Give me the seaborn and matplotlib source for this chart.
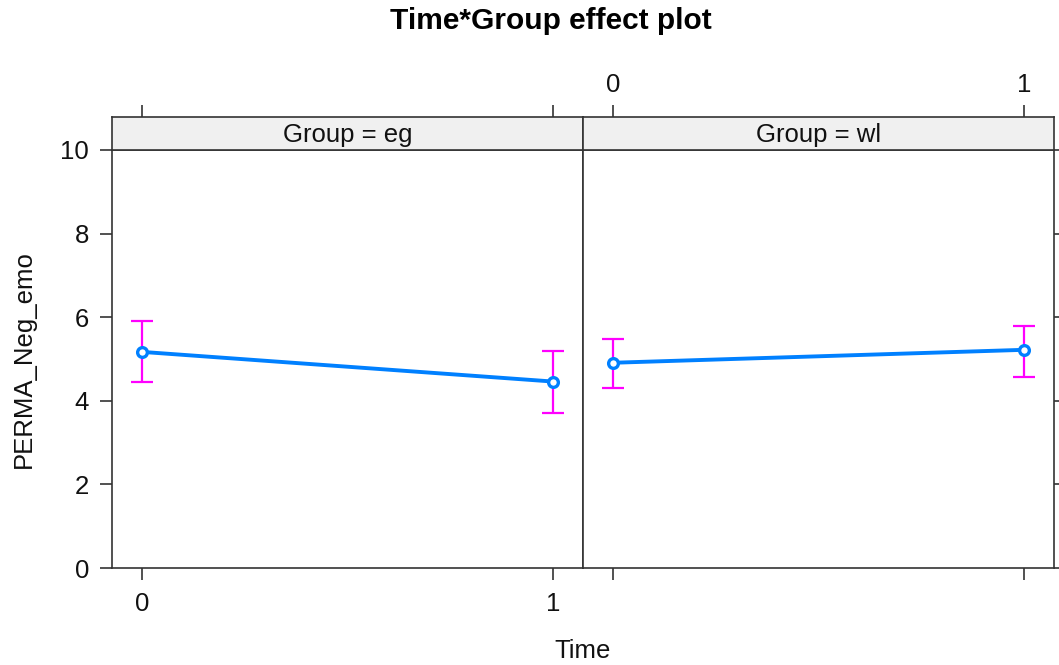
import pandas as pd
import matplotlib
matplotlib.use("Agg")
import matplotlib.pyplot as plt
import seaborn as sns

# effect estimates
time = [0, 1]
groups = ["eg", "wl"]
fit_eg = [5.17, 4.46]
lower_eg = [4.44, 3.72]
upper_eg = [5.92, 5.20]
fit_wl = [4.91, 5.22]
lower_wl = [4.30, 4.57]
upper_wl = [5.47, 5.80]

df = pd.DataFrame({
    "Time": time * 2,
    "Group": ["eg"] * 2 + ["wl"] * 2,
    "fit": fit_eg + fit_wl,
    "lower": lower_eg + lower_wl,
    "upper": upper_eg + upper_wl,
})

sns.set_style("white")
plt.rcParams["font.family"] = ["Liberation Sans", "DejaVu Sans"]

LINE = "#0080ff"
CI = "#ff00ff"
EDGE = "#333333"
TXT = "#111111"
FS = 18.5
W, H = 1059, 665

fig = plt.figure(figsize=(W / 100, H / 100), dpi=100)

# panel geometry (fig fractions)
x_edges = [(112, 583), (583, 1054)]
top_px, bot_px, strip_px = 150, 568, 117
pb = 1 - bot_px / H
ph = (bot_px - top_px) / H
sb = 1 - top_px / H
sh = (top_px - strip_px) / H

for i, g in enumerate(groups):
    l, r = x_edges[i]
    ax = fig.add_axes([l / W, pb, (r - l) / W, ph])
    sax = fig.add_axes([l / W, sb, (r - l) / W, sh], sharex=ax)
    sub = df[df["Group"] == g]

    ax.errorbar(sub["Time"], sub["fit"],
                yerr=[sub["fit"] - sub["lower"], sub["upper"] - sub["fit"]],
                fmt="none", ecolor=CI, elinewidth=1.6, capsize=8, capthick=1.6, zorder=2)
    sns.lineplot(data=sub, x="Time", y="fit", ax=ax, color=LINE, linewidth=2.8,
                 marker="o", markersize=7, markerfacecolor="white",
                 markeredgecolor=LINE, markeredgewidth=2.4, zorder=3)

    ax.set_xlim(-0.073, 1.072)
    ax.set_ylim(0, 10)
    ax.set_xticks(time)
    ax.set_yticks([0, 2, 4, 6, 8, 10])
    ax.set_xlabel("")
    ax.set_ylabel("")
    for sp in ax.spines.values():
        sp.set_color(EDGE)
        sp.set_linewidth(1.2)
    ax.tick_params(direction="out", length=8.5, width=1.2, color=EDGE,
                   labelsize=FS, labelcolor=TXT)
    ax.tick_params(axis="x", bottom=True, top=False, pad=9)
    ax.tick_params(axis="y", pad=8)

    # strip
    sax.set_facecolor("#f0f0f0")
    sax.set_ylim(0, 1)
    sax.set_yticks([])
    for sp in sax.spines.values():
        sp.set_color(EDGE)
        sp.set_linewidth(1.2)
    sax.text(0.5, 0.45, f"Group = {g}", transform=sax.transAxes,
             ha="center", va="center", fontsize=FS, color=TXT)
    sax.tick_params(axis="x", which="both", bottom=False, top=True, direction="out",
                    length=8.5, width=1.2, color=EDGE, labelsize=FS, pad=6,
                    labelcolor=TXT, labelbottom=False, labeltop=(i == 1))

    if i == 0:
        ax.tick_params(axis="y", left=True, right=False, labelleft=True)
        ax.tick_params(axis="x", labelbottom=True)
    else:
        ax.tick_params(axis="y", left=False, right=True, labelleft=False, labelright=False)
        ax.tick_params(axis="x", labelbottom=False)

fig.text(551 / W, 1 - 21 / H, "Time*Group effect plot", ha="center", va="center",
         fontsize=21.5, fontweight="bold", color="black")
fig.text(583 / W, 1 - 651 / H, "Time", ha="center", va="center", fontsize=FS, color=TXT)
fig.text(24 / W, 1 - 359 / H, "PERMA_Neg_emo", ha="center", va="center", rotation=90,
         fontsize=FS, color=TXT)

fig.savefig("out.png", dpi=100, facecolor="white")
